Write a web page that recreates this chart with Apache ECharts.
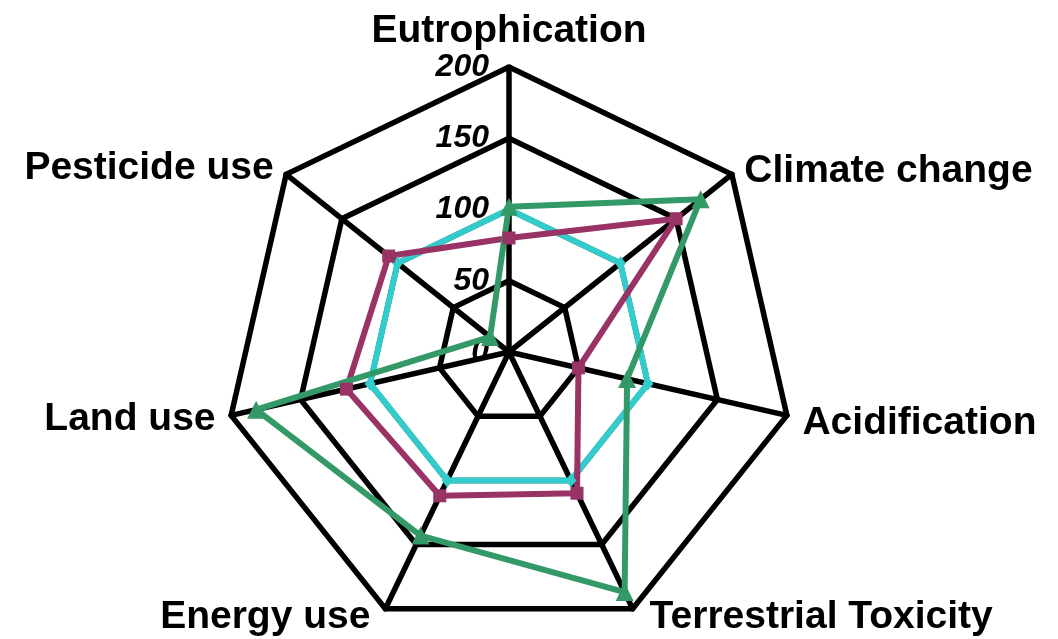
<!DOCTYPE html>
<html>
<head>
<meta charset="utf-8">
<script src="https://cdn.jsdelivr.net/npm/echarts@6/dist/echarts.min.js"></script>
<style>
  html, body { margin: 0; padding: 0; background: #ffffff; }
  #chart { width: 1058px; height: 639px; }
</style>
</head>
<body>
<div id="chart"></div>
<script>
// Impact categories, listed clockwise from the top
const categories = ['Eutrophication', 'Climate change', 'Acidification', 'Terrestrial Toxicity', 'Energy use', 'Land use', 'Pesticide use'];
const axisMax = 200;
const tickValues = [0, 50, 100, 150, 200];

// Scores per category (same clockwise order)
const seriesCyan = [100, 100, 100, 100, 100, 100, 100];
const seriesPurple = [80, 150, 50, 110, 112, 117, 108];
const seriesGreen = [102, 172, 85, 187, 143, 182, 17];

// ECharts lays out radar indicators counter-clockwise, so walk the list backwards after the first one
const order = [0, 6, 5, 4, 3, 2, 1];
const pick = arr => order.map(i => arr[i]);

const nameFont = {
  color: '#000',
  fontFamily: 'Liberation Sans, Arial, sans-serif',
  fontSize: 39,
  fontWeight: 'bold'
};
// small nudges so each category name sits clear of its corner
const nameRich = {
  c0: Object.assign({}, nameFont),
  c1: Object.assign({ padding: [14, 0, 0, 0] }, nameFont),
  c2: Object.assign({ padding: [8, 0, 0, 0] }, nameFont),
  c3: Object.assign({ padding: [0, 0, 12, 10] }, nameFont),
  c4: Object.assign({ padding: [0, 8, 12, 0] }, nameFont),
  c5: Object.assign({}, nameFont),
  c6: Object.assign({ padding: [8, 0, 0, 0] }, nameFont)
};

const indicator = pick(categories).map((name, k) => {
  const ind = { name: name, min: 0, max: axisMax };
  if (k === 0) {
    ind.axisLabel = {
      show: true,
      color: '#000',
      fontFamily: 'Liberation Sans, Arial, sans-serif',
      fontSize: 32,
      fontWeight: 'bold',
      fontStyle: 'italic',
      margin: 20,
      formatter: v => (tickValues.indexOf(v) >= 0 ? String(v) : '')
    };
  }
  return ind;
});

const chart = echarts.init(document.getElementById('chart'), null, { renderer: 'canvas' });
chart.setOption({
  animation: false,
  backgroundColor: '#ffffff',
  radar: {
    center: [509, 352],
    radius: 285,
    startAngle: 90,
    shape: 'polygon',
    splitNumber: 4,
    nameGap: 16,
    indicator: indicator,
    axisName: Object.assign({
      formatter: name => '{c' + categories.indexOf(name) + '|' + name + '}',
      rich: nameRich
    }, nameFont),
    axisLine: { show: true, lineStyle: { color: '#000', width: 5.5 } },
    splitLine: { show: true, lineStyle: { color: '#000', width: 5.5 } },
    splitArea: { show: false },
    axisTick: { show: false },
    axisLabel: { show: false }
  },
  series: [{
    type: 'radar',
    data: [
      {
        value: pick(seriesCyan),
        symbol: 'diamond',
        symbolSize: [11, 14],
        lineStyle: { color: '#33CCCC', width: 6 },
        itemStyle: { color: '#33CCCC' }
      },
      {
        value: pick(seriesPurple),
        symbol: 'rect',
        symbolSize: 13,
        lineStyle: { color: '#993366', width: 6 },
        itemStyle: { color: '#993366' }
      },
      {
        value: pick(seriesGreen),
        symbol: 'triangle',
        symbolSize: 18,
        lineStyle: { color: '#339966', width: 6 },
        itemStyle: { color: '#339966' }
      }
    ]
  }]
});
</script>
</body>
</html>
